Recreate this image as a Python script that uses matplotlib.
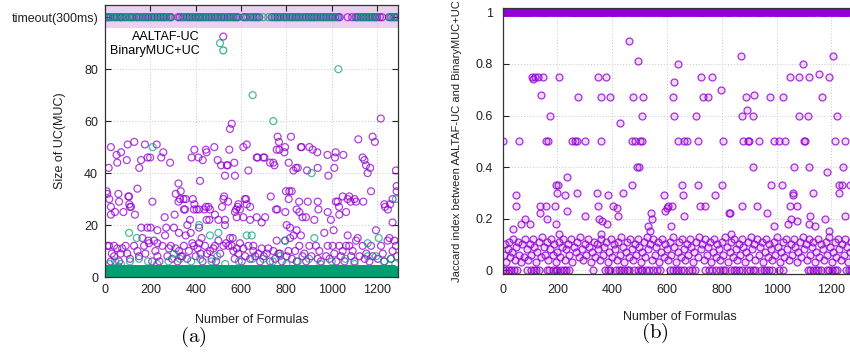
import matplotlib
matplotlib.use("Agg")
import matplotlib.pyplot as plt

plt.rcParams["font.family"] = ["Liberation Sans", "DejaVu Sans"]
plt.rcParams["mathtext.fontset"] = "cm"

PURPLE = "#9400d3"
GREEN = "#009e73"
TIMEOUT = 100

formula_ticks = [0, 200, 400, 600, 800, 1000, 1200]
size_ticks = [0, 20, 40, 60, 80, 100]
size_tick_labels = ["0", "20", "40", "60", "80", "timeout(300ms)"]
jaccard_ticks = [0, 0.2, 0.4, 0.6, 0.8, 1]
jaccard_tick_labels = ["0", "0.2", "0.4", "0.6", "0.8", "1"]

# formulas where each tool hit the 300ms timeout
aaltaf_timeout = [6, 14, 25, 40, 52, 66, 75, 90, 110, 122, 138, 150, 165, 178, 190, 205, 218, 232, 245,
                  258, 270, 285, 292, 322, 330, 345, 360, 372, 385, 398, 410, 420, 432, 445, 458, 470,
                  485, 498, 512, 525, 540, 552, 566, 578, 586, 610, 622, 640, 655, 668, 680, 735, 748,
                  760, 772, 788, 800, 815, 828, 842, 855, 870, 885, 898, 910, 922, 935, 950, 962, 975,
                  990, 1002, 1015, 1028, 1035, 1070, 1090, 1105, 1115, 1128, 1140, 1152, 1165, 1178,
                  1190, 1200, 1212, 1222, 1252, 1262, 1275, 1286]
binary_timeout = [10, 20, 33, 46, 58, 70, 82, 95, 104, 116, 128, 143, 157, 170, 184, 198, 212, 225, 238,
                  252, 264, 278, 290, 338, 352, 366, 378, 392, 404, 416, 428, 440, 452, 465, 478, 492,
                  505, 518, 532, 546, 560, 572, 584, 615, 630, 648, 662, 675, 698, 720, 740, 753, 766,
                  780, 794, 808, 822, 835, 848, 862, 876, 890, 904, 916, 928, 942, 956, 968, 982, 995,
                  1008, 1022, 1110, 1122, 1134, 1146, 1160, 1172, 1184, 1196, 1258, 1270, 1282]

# (formula, size of UC) for AALTAF-UC above the dense bottom band
aaltaf_uc = [
    (7, 33), (10, 32), (16, 42), (19, 30), (26, 50), (26, 27), (26, 24), (44, 25), (51, 47), (54, 44),
    (59, 32), (62, 29), (71, 48), (81, 25), (96, 45), (100, 51), (103, 31), (106, 31), (107, 28),
    (110, 27), (115, 27), (129, 52), (132, 24), (143, 34), (151, 42), (159, 45), (176, 51), (187, 19),
    (188, 46), (199, 46), (209, 29), (228, 51), (248, 46), (257, 48), (263, 23), (287, 44), (307, 24),
    (312, 32), (324, 36), (324, 29), (331, 30), (334, 33), (346, 30), (348, 26), (353, 26), (356, 30),
    (363, 20), (375, 22), (382, 46), (387, 30), (392, 26), (394, 49), (394, 28), (404, 26), (412, 46),
    (415, 26), (419, 37), (431, 45), (438, 26), (445, 49), (445, 27), (448, 48), (448, 22), (456, 27),
    (460, 22), (463, 26), (482, 50), (485, 24), (497, 45), (500, 22), (512, 43), (516, 27), (522, 30),
    (525, 31), (529, 39), (529, 22), (529, 20), (537, 43), (541, 43), (543, 29), (548, 49), (551, 57),
    (559, 59), (570, 44), (573, 39), (573, 25), (578, 26), (581, 23), (585, 27), (588, 28), (595, 26),
    (610, 50), (610, 23), (617, 30), (622, 30), (625, 51), (625, 28), (632, 41), (640, 22), (640, 27),
    (669, 46), (669, 23), (673, 46), (691, 21), (698, 46), (703, 46), (706, 23), (728, 44), (731, 31),
    (742, 44), (747, 43), (754, 26), (757, 49), (760, 26), (761, 54), (767, 52), (769, 49), (791, 48),
    (794, 50), (795, 25), (798, 33), (801, 20), (810, 30), (810, 44), (813, 33), (816, 19), (820, 54),
    (823, 33), (831, 41), (842, 42), (845, 26), (845, 18), (850, 42), (856, 29), (857, 25), (864, 50),
    (867, 50), (871, 23), (886, 23), (891, 41), (894, 29), (901, 50), (916, 49), (923, 22), (936, 48),
    (938, 42), (938, 29), (941, 26), (981, 47), (982, 25), (985, 39), (996, 22), (1011, 42), (1014, 46),
    (1017, 48), (1018, 29), (1026, 29), (1032, 27), (1033, 24), (1048, 31), (1051, 47), (1063, 25),
    (1070, 30), (1077, 31), (1083, 29), (1100, 30), (1107, 29), (1117, 53), (1136, 46), (1139, 29),
    (1144, 45), (1151, 43), (1158, 40), (1169, 42), (1173, 33), (1180, 54), (1190, 52), (1216, 61),
    (1232, 28), (1235, 27), (1247, 26), (1257, 28), (1268, 30), (1268, 21), (1283, 41), (1286, 33),
    (1286, 35),
    (10, 12), (18, 12), (25, 6), (30, 9), (40, 12), (40, 8), (54, 11), (62, 6), (69, 9), (76, 11),
    (91, 12), (98, 9), (110, 7), (128, 12), (143, 10), (150, 8), (160, 19), (165, 15), (172, 12),
    (178, 9), (191, 14), (194, 13), (201, 19), (208, 6), (216, 14), (222, 10), (231, 18), (231, 13),
    (231, 8), (240, 6), (253, 12), (265, 16), (270, 19), (275, 8), (282, 11), (290, 12), (296, 7),
    (304, 19), (312, 11), (320, 6), (326, 17), (326, 10), (334, 8), (341, 8), (348, 12), (356, 16),
    (362, 7), (370, 10), (378, 17), (385, 13), (392, 12), (400, 8), (408, 11), (415, 19), (415, 13),
    (422, 9), (426, 15), (430, 6), (441, 12), (450, 9), (463, 10), (470, 7), (478, 11), (485, 12),
    (490, 6), (500, 14), (508, 9), (522, 12), (534, 13), (544, 12), (551, 15), (559, 12), (563, 15),
    (566, 10), (572, 7), (581, 11), (588, 9), (595, 13), (603, 6), (610, 11), (618, 8), (632, 12),
    (640, 7), (654, 12), (654, 10), (662, 8), (676, 9), (684, 6), (691, 11), (700, 8), (713, 9),
    (720, 11), (728, 6), (742, 10), (750, 7), (757, 14), (765, 9), (772, 9), (780, 6), (794, 14),
    (801, 8), (809, 10), (816, 15), (824, 7), (831, 16), (838, 10), (845, 6), (857, 12), (864, 16),
    (871, 8), (879, 9), (887, 6), (901, 12), (910, 8), (930, 12), (938, 7), (945, 10), (952, 6),
    (967, 17), (975, 8), (982, 12), (990, 7), (1004, 12), (1008, 18), (1011, 9), (1020, 6), (1033, 12),
    (1040, 8), (1048, 10), (1056, 6), (1063, 12), (1070, 16), (1077, 12), (1085, 8), (1092, 10),
    (1100, 6), (1107, 14), (1114, 15), (1122, 8), (1136, 12), (1145, 7), (1152, 9), (1166, 6),
    (1173, 12), (1180, 8), (1195, 18), (1203, 7), (1217, 12), (1225, 9), (1232, 6), (1246, 14),
    (1254, 15), (1261, 7), (1268, 10), (1276, 14), (1283, 12), (1288, 8),
]

# (formula, size of UC) for BinaryMUC+UC above the dense bottom band
binary_uc = [
    (106, 17), (140, 15), (210, 50), (415, 20), (463, 16), (500, 17), (507, 90), (625, 16), (647, 16),
    (651, 70), (742, 60), (794, 14), (911, 40), (923, 15), (1029, 80), (1158, 13), (1207, 15), (1283, 30),
    (20, 5), (45, 6), (70, 5), (110, 6), (150, 7), (190, 6), (230, 5), (280, 6), (304, 9), (330, 7),
    (380, 6), (420, 7), (470, 6), (495, 8), (530, 5), (590, 6), (650, 7), (698, 7), (740, 6), (772, 8),
    (800, 5), (850, 6), (900, 7), (950, 5), (1000, 6), (1060, 7), (1100, 5), (1158, 8), (1195, 8),
    (1230, 6), (1261, 7), (1280, 5),
]

# BinaryMUC+UC small UC sizes, one digit per formula (40 formulas per line)
binary_small = (
    "2131231213312121321322131213213121321321"
    "3121213213121321312141213213121231213213"
    "1213212312131213212321312132131213121231"
    "2312131213213121321213121321312132123121"
    "1321213121321312132131212313212131213213"
    "2131213212312131213121321213213121321312"
    "3121321312132121312132131213121321312132"
    "1213121321312132131212312131321213121321"
    "2132131212313212131213213121321312131213"
    "3121312132131213121321213121321312132121"
    "1312132121312131213213121321312132131213"
    "2121321312132131213121321213213121321312"
    "3213121321213121321312132131213121321213"
    "1312131213213121321312132121312132131212"
    "2131213212312131213213121321312131213213"
    "3121321312131213212312131213213121321312"
    "0213121321213121321231213213121321213121"
    "1321312132121312132131212132123121312132"
    "2121312132131213121321213213121321312132"
    "3121321213121321312131213121312132121312"
    "1213213121312132131212312131213213121321"
    "2312131213213121321312132123121313121321"
    "1321213121321312132131212313212131213213"
    "2131213212312131213121321213213121321312"
    "3121321312132121312132131213121321312132"
    "1213121321312132131212312131321213121321"
    "2132131212313212131213213121321312131213"
    "3121312132131213121321213121321312132121"
    "1312132121312131213213121321312132131213"
    "2121321312132131213121321213213121321312"
    "3213121321213121321312132131213121321213"
    "1312131213213121321312132121312132131212"
)

# Jaccard index per formula: '1' = 1, '0' = 0, '.' = other value (listed below)
jaccard_band = (
    "0.1.11.1..1.0.11.1..11.0.1.1..0.1.11.1.."
    "1.0.11.1..11.0.1.1..1.1.11.1.11.1.11.1.1"
    "1.1.11.1.10.1.11.1..1.0.11.1..11.0.1.1.."
    "0.1.11.1..1.0.11.1..1.1.11.1.11.1.11.1.1"
    "11.0.1.1..0.1.11.1..1.0.11.1..11.0.1.1.."
    "0.1.11.1..1.0.11.1..11.0.1.1..0.1.11.1.."
    "1.0.11.1..1.1.11.1.11.1.11.1.11.1.11.1.1"
    "1.11.1.1.11.1.11.1.11.1.11.1.11.1.11.1.1"
    "1.1.11.1.10.1.11.1..1.1.11.1.11.1.11.1.1"
    "1.1.11.1.11.0.11.1..11.0.1.1..0.1.11.1.."
    "1.11.1.1.11.0.11.1..11.0.1.1..0.1.11.1.."
    "1.0.11.1..11.0.1.1..0.1.11.1..1.11.1.1.1"
    "0.1.11.1..1.0.11.1..11.0.1.1..0.1.11.1.."
    "1.0.11.1..11.0.1.1..1.11.1.1.10.1.11.1.."
    "1.0.11.1..11.0.1.1..1.1.11.1.11.1.11.1.1"
    "1.1.11.1.10.1.11.1..1.0.11.1..11.0.1.1.."
    "0.1.11.1..1.0.11.1..11.0.1.1..1.11.1.1.1"
    "0.1.11.1..1.0.11.1..11.0.1.1..1.1.11.1.1"
    "1.1.11.1.11.11.1.1.10.1.11.1..1.0.11.1.."
    "11.0.1.1..1.11.1.1.10.1.11.1..1.0.11.1.."
    "11.0.1.1..0.1.11.1..1.11.1.1.11.0.11.1.."
    "11.0.1.1..0.1.11.1..1.0.11.1..11.0.1.1.."
    "1.11.1.1.10.1.11.1..1.0.11.1..11.0.1.1.."
    "0.1.11.1..1.11.1.1.11.0.11.1..11.0.1.1.."
    "0.1.11.1..1.0.11.1..11.0.1.1..1.1.11.1.1"
    "1.1.11.1.10.1.11.1..1.0.11.1..1.11.1.1.1"
    "1.1.11.1.11.1.11.1.11.1.11.1.11.11.1.1.1"
    "1.1.11.1.11.1.11.1.11.1.11.1.111.0.1.1.."
    "0.1.11.1..1.0.11.1..11.0.1.1..0.1.11.1.."
    "1.0.11.1..1.11.1.1.111.0.1.1..0.1.11.1.."
    "1.0.11.1..11.0.1.1..0.1.11.1..1.1.11.1.1"
    "1.1.11.1.11.0.11.1..11.0.1.1..0.1.11.1.."
    "1.11.1.1.1"
)

# (formula, Jaccard index) between 0.14 and 0.9
jaccard_mid = [
    (2, .5), (61, .5), (106, .75), (112, .74), (118, .75), (130, .75), (146, .75), (138, .68), (158, .5),
    (166, .5), (172, .6), (207, .75), (252, .5), (264, .5), (272, .5), (276, .67), (300, .5), (346, .75),
    (357, .5), (359, .67), (377, .75), (392, .67), (428, .57), (462, .89), (495, .81), (474, .67),
    (513, .67), (507, .6), (473, .5), (483, .5), (501, .5), (507, .5), (489, .4), (498, .4), (471, .33),
    (440, .3), (590, .29), (623, .67), (627, .73), (627, .6), (639, .5), (641, .8), (663, .5), (672, .5),
    (656, .33), (659, .29), (706, .6), (714, .5), (714, .33), (724, .75), (730, .67), (751, .67),
    (765, .75), (775, .29), (797, .7), (799, .33), (805, .5), (868, .83), (878, .5), (896, .5), (900, .5),
    (875, .6), (893, .62), (912, .6), (888, .67), (917, .68), (937, .5), (912, .4), (976, .67), (991, .5),
    (1010, .5), (1030, .5), (1022, .67), (979, .33), (1018, .33), (1049, .75), (1058, .3), (1061, .29),
    (1064, .4), (1083, .75), (1083, .6), (1095, .8), (1100, .5), (1103, .5), (1115, .6), (1118, .75),
    (1119, .4), (1131, .3), (1154, .76), (1164, .67), (1185, .38), (1192, .75), (1204, .83), (1213, .5),
    (1219, .6), (1227, .3), (1229, .33), (1237, .33), (1241, .4), (1249, .5), (1268, .33),
    (233, .36), (194, .33), (203, .33), (200, .3), (227, .29), (272, .3), (343, .3), (385, .29), (48, .29),
    (47, .25), (136, .25), (157, .25), (191, .25), (236, .23), (346, .25), (404, .25), (416, .24),
    (136, .22), (160, .2), (81, .2), (65, .18), (100, .18), (39, .16), (194, .18), (205, .14), (300, .21),
    (351, .2), (361, .19), (379, .18), (357, .14), (605, .25), (617, .25), (599, .24), (592, .23),
    (720, .25), (738, .25), (422, .21), (541, .22), (546, .2), (662, .21), (826, .22), (529, .17),
    (614, .17), (538, .15), (833, .14), (872, .25), (927, .25), (963, .22), (1049, .25), (1073, .25),
    (830, .22), (1121, .21), (1176, .2), (1249, .21), (1052, .2), (1042, .18), (1073, .19), (1119, .18),
    (1140, .17), (990, .17), (1192, .15),
]

# (formula, Jaccard index) for the crowded low values
jaccard_low = [
    (3, .06), (8, .10), (12, .03), (18, .08), (22, .11), (27, .05), (33, .07), (38, .12), (44, .04),
    (49, .09), (55, .11), (60, .06), (66, .03), (71, .10), (77, .05), (83, .12), (88, .08), (94, .04),
    (99, .10), (105, .06), (110, .12), (116, .09), (121, .03), (127, .07), (132, .11), (138, .05),
    (143, .13), (149, .09), (154, .06), (160, .11), (166, .04), (171, .08), (177, .12), (182, .06),
    (188, .10), (193, .03), (199, .07), (205, .11), (210, .05), (216, .09), (221, .12), (227, .04),
    (232, .08), (238, .10), (243, .06), (249, .12), (254, .03), (260, .09), (266, .07), (271, .11),
    (277, .05), (282, .13), (288, .08), (293, .04), (299, .10), (304, .06), (310, .12), (316, .09),
    (321, .03), (327, .07), (332, .11), (338, .05), (343, .10), (349, .08), (355, .04), (360, .12),
    (366, .06), (371, .09), (377, .11), (383, .03), (388, .07), (394, .12), (399, .05), (405, .10),
    (410, .08), (416, .04), (421, .11), (427, .06), (432, .13), (438, .09), (443, .03), (449, .07),
    (455, .11), (460, .05), (466, .12), (471, .08), (477, .04), (482, .10), (488, .06), (494, .12),
    (499, .09), (505, .03), (510, .07), (516, .11), (521, .05), (527, .13), (532, .08), (538, .10),
    (544, .04), (549, .12), (555, .06), (560, .09), (566, .11), (571, .03), (577, .07), (583, .12),
    (588, .05), (594, .10), (599, .08), (605, .04), (610, .11), (616, .06), (622, .13), (627, .09),
    (633, .03), (638, .07), (644, .11), (649, .05), (655, .12), (661, .08), (666, .04), (672, .10),
    (677, .06), (683, .12), (688, .09), (694, .03), (700, .07), (705, .11), (711, .05), (716, .13),
    (722, .08), (727, .10), (733, .04), (739, .12), (744, .06), (750, .09), (755, .11), (761, .03),
    (766, .07), (772, .12), (778, .05), (783, .10), (789, .08), (794, .04), (800, .11), (805, .06),
    (811, .13), (817, .09), (822, .03), (828, .07), (833, .11), (839, .05), (844, .12), (850, .08),
    (856, .04), (861, .10), (867, .06), (872, .12), (878, .09), (883, .03), (889, .07), (895, .11),
    (900, .05), (906, .13), (911, .08), (917, .10), (922, .04), (928, .12), (934, .06), (939, .09),
    (945, .11), (950, .03), (956, .07), (961, .12), (967, .05), (973, .10), (978, .08), (984, .04),
    (989, .11), (995, .06), (1000, .13), (1006, .09), (1012, .03), (1017, .07), (1023, .11),
    (1028, .05), (1034, .12), (1039, .08), (1045, .04), (1051, .10), (1056, .06), (1062, .12),
    (1067, .09), (1073, .03), (1078, .07), (1084, .11), (1090, .05), (1095, .13), (1101, .08),
    (1106, .10), (1112, .04), (1117, .12), (1123, .06), (1129, .09), (1134, .11), (1140, .03),
    (1145, .07), (1151, .12), (1156, .05), (1162, .10), (1168, .08), (1173, .04), (1179, .11),
    (1184, .06), (1190, .13), (1195, .09), (1201, .03), (1207, .07), (1212, .11), (1218, .05),
    (1223, .12), (1229, .08), (1234, .04), (1240, .10), (1246, .06), (1251, .12), (1257, .09),
    (1262, .03), (1268, .07), (1273, .11), (1279, .05), (1285, .12),
]


def style_axes(ax):
    ax.set_xlim(0, 1292)
    ax.set_xticks(formula_ticks)
    ax.grid(True, color="#c8c8c8", linestyle=(0, (1, 2)), linewidth=0.7)
    ax.set_axisbelow(True)
    ax.tick_params(direction="in", top=True, right=True, length=4, width=0.8,
                   labelsize=9, colors="#222222")
    for spine in ax.spines.values():
        spine.set_color("#333333")
        spine.set_linewidth(0.9)
    ax.set_xlabel("Number of Formulas", fontsize=9, color="#222222")


fig = plt.figure(figsize=(8.5, 3.54), dpi=100)

# (a) size of the unsatisfiable cores
ax1 = fig.add_axes([105 / 850, 77 / 354, 293 / 850, 272 / 354])
style_axes(ax1)
ax1.set_ylim(0, 104.7)
ax1.set_yticks(size_ticks)
ax1.set_yticklabels(size_tick_labels)
ax1.tick_params(axis="x", pad=5)
ax1.tick_params(axis="y", pad=5)
ax1.axhspan(95.9, 104.7, color="#ecd0f0", zorder=0, linewidth=0)

ring = dict(s=25, facecolors="none", linewidths=0.9)
ax1.scatter(aaltaf_timeout, [TIMEOUT] * len(aaltaf_timeout), edgecolors=PURPLE, alpha=0.75, **ring)
ax1.scatter([p[0] for p in aaltaf_uc], [p[1] for p in aaltaf_uc], edgecolors=PURPLE, alpha=0.75,
            label="AALTAF-UC", **ring)
ax1.scatter(range(len(binary_small)), [int(c) for c in binary_small], edgecolors=GREEN, alpha=0.8,
            label="BinaryMUC+UC", **ring)
ax1.scatter([p[0] for p in binary_uc], [p[1] for p in binary_uc], edgecolors=GREEN, alpha=0.7, **ring)
ax1.scatter(binary_timeout, [TIMEOUT] * len(binary_timeout), edgecolors=GREEN, alpha=0.7, **ring)

ax1.set_ylabel("Size of UC(MUC)", fontsize=9, color="#222222")
ax1.yaxis.set_label_coords(-0.133, 0.5)
ax1.xaxis.set_label_coords(0.5, -0.136)
ax1.legend(loc="upper right", bbox_to_anchor=(0.425, 0.905), frameon=False, markerfirst=False,
           handlelength=1.0, handletextpad=1.4, borderpad=0, borderaxespad=0, labelspacing=0.15,
           fontsize=9, scatterpoints=1)

# (b) Jaccard index between the two tools
ax2 = fig.add_axes([502.7 / 850, 80 / 354, 354 / 850, 265.7 / 354])
style_axes(ax2)
ax2.set_ylim(-0.0155, 1.0163)
ax2.set_yticks(jaccard_ticks)
ax2.set_yticklabels(jaccard_tick_labels)
ax2.tick_params(axis="both", pad=7)

filled = dict(s=25, facecolors=(0.58, 0.0, 0.83, 0.15), edgecolors=(0.58, 0.0, 0.83, 0.8),
              linewidths=0.9)
band_x = [i for i, c in enumerate(jaccard_band) if c != "."]
band_y = [int(jaccard_band[i]) for i in band_x]
ax2.scatter(band_x, band_y, **filled)
ax2.scatter([p[0] for p in jaccard_low], [p[1] for p in jaccard_low], **filled)
ax2.scatter([p[0] for p in jaccard_mid], [p[1] for p in jaccard_mid], **filled)

ax2.set_ylabel("Jaccard index between AALTAF-UC and BinaryMUC+UC", fontsize=8, color="#222222")
ax2.yaxis.set_label_coords(-0.115, 0.5)
ax2.xaxis.set_label_coords(0.5, -0.138)

fig.text(193 / 850, 1 - 337 / 354, r"$\mathrm{(a)}$", fontsize=15, ha="center", va="center")
fig.text(655 / 850, 1 - 333 / 354, r"$\mathrm{(b)}$", fontsize=15, ha="center", va="center")

fig.savefig("out.png", dpi=100)
